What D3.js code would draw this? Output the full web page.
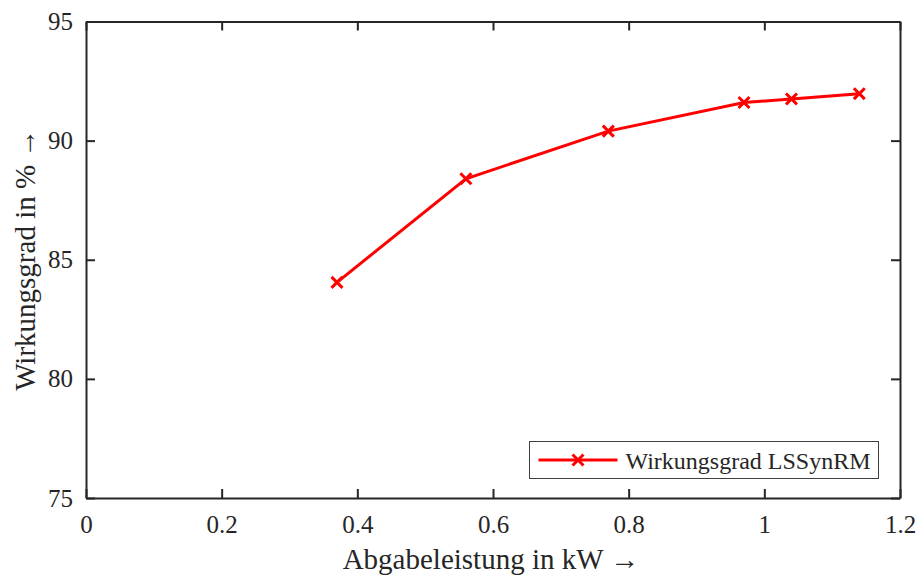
<!DOCTYPE html>
<html>
<head>
<meta charset="utf-8">
<script src="https://cdn.jsdelivr.net/npm/d3@7"></script>
<style>
  body { margin: 0; background: #fff; }
  text { font-family: "Liberation Serif", "Times New Roman", serif; fill: #262626; }
</style>
</head>
<body>
<svg id="canvas" width="916" height="576"></svg>
<script>
var leistung = [0.37, 0.56, 0.77, 0.97, 1.04, 1.14];
var wirkungsgrad = [84.05, 88.4, 90.4, 91.6, 91.75, 91.97];
var xTicks = [0, 0.2, 0.4, 0.6, 0.8, 1, 1.2];
var yTicks = [75, 80, 85, 90, 95];
var seriesName = "Wirkungsgrad LSSynRM";

var width = 916;
var height = 576;
var margins = { left: 86, right: 16, top: 21.5, bottom: 78 };

var canvas = d3.select("#canvas");

var x = d3.scaleLinear()
  .domain([0, 1.2])
  .range([margins.left, width - margins.right]);
var y = d3.scaleLinear()
  .domain([75, 95])
  .range([height - margins.bottom, margins.top]);

// axes (ticks pointing inward, box on all sides)
var axB = canvas.append("g")
  .attr("transform", "translate(0," + y(75) + ")")
  .call(d3.axisBottom(x).tickValues(xTicks).tickSizeInner(-9).tickSizeOuter(0)
    .tickPadding(14).tickFormat(function(d) { return d3.format("")(d); }));
var axT = canvas.append("g")
  .attr("transform", "translate(0," + y(95) + ")")
  .call(d3.axisTop(x).tickValues(xTicks).tickSizeInner(-9).tickSizeOuter(0).tickFormat(""));
var axL = canvas.append("g")
  .attr("transform", "translate(" + x(0) + ",0)")
  .call(d3.axisLeft(y).tickValues(yTicks).tickSizeInner(-9).tickSizeOuter(0).tickPadding(13));
var axR = canvas.append("g")
  .attr("transform", "translate(" + x(1.2) + ",0)")
  .call(d3.axisRight(y).tickValues(yTicks).tickSizeInner(-9).tickSizeOuter(0).tickFormat(""));

[axB, axT, axL, axR].forEach(function(g) {
  g.selectAll("path").attr("stroke", "#262626").attr("stroke-width", 2);
  g.selectAll("line").attr("stroke", "#262626").attr("stroke-width", 2);
  g.selectAll("text").attr("font-size", 25).attr("fill", "#262626")
    .style("font-family", "'Liberation Serif', serif");
});
axB.selectAll("text").attr("dy", "0.85em");
axL.selectAll("text").attr("dy", "0.32em");

// axis titles
canvas.append("text")
  .attr("x", x(0.6) - 2)
  .attr("y", 569)
  .attr("text-anchor", "middle")
  .attr("font-size", 29)
  .text("Abgabeleistung in kW \u2192");
canvas.append("g")
  .attr("transform", "translate(35," + (y(85)) + ") rotate(-90)")
  .append("text")
  .attr("text-anchor", "middle")
  .attr("font-size", 29)
  .text("Wirkungsgrad in % \u2192");

// line + markers
var pts = leistung.map(function(d, i) { return [d, wirkungsgrad[i]]; });
var line = d3.line()
  .x(function(d) { return x(d[0]); })
  .y(function(d) { return y(d[1]); });

canvas.append("path")
  .datum(pts)
  .attr("d", line)
  .attr("fill", "none")
  .attr("stroke", "#ff0000")
  .attr("stroke-width", 3);

var cross = d3.symbol().type(d3.symbolX).size(80);
canvas.selectAll("path.marker")
  .data(pts)
  .enter()
  .append("path")
  .attr("class", "marker")
  .attr("d", cross)
  .attr("transform", function(d) { return "translate(" + x(d[0]) + "," + y(d[1]) + ")"; })
  .attr("fill", "none")
  .attr("stroke", "#ff0000")
  .attr("stroke-width", 3);

// legend
var legend = canvas.append("g").attr("transform", "translate(529.5,441.5)");
legend.append("rect")
  .attr("width", 349)
  .attr("height", 37)
  .attr("fill", "#fff")
  .attr("stroke", "#404040")
  .attr("stroke-width", 1);
legend.append("line")
  .attr("x1", 9).attr("x2", 88)
  .attr("y1", 18.5).attr("y2", 18.5)
  .attr("stroke", "#ff0000")
  .attr("stroke-width", 3);
legend.append("path")
  .attr("d", cross)
  .attr("transform", "translate(48.5,18.5)")
  .attr("fill", "none")
  .attr("stroke", "#ff0000")
  .attr("stroke-width", 3);
legend.append("text")
  .attr("x", 96)
  .attr("y", 27)
  .attr("font-size", 24)
  .text(seriesName);
</script>
</body>
</html>
